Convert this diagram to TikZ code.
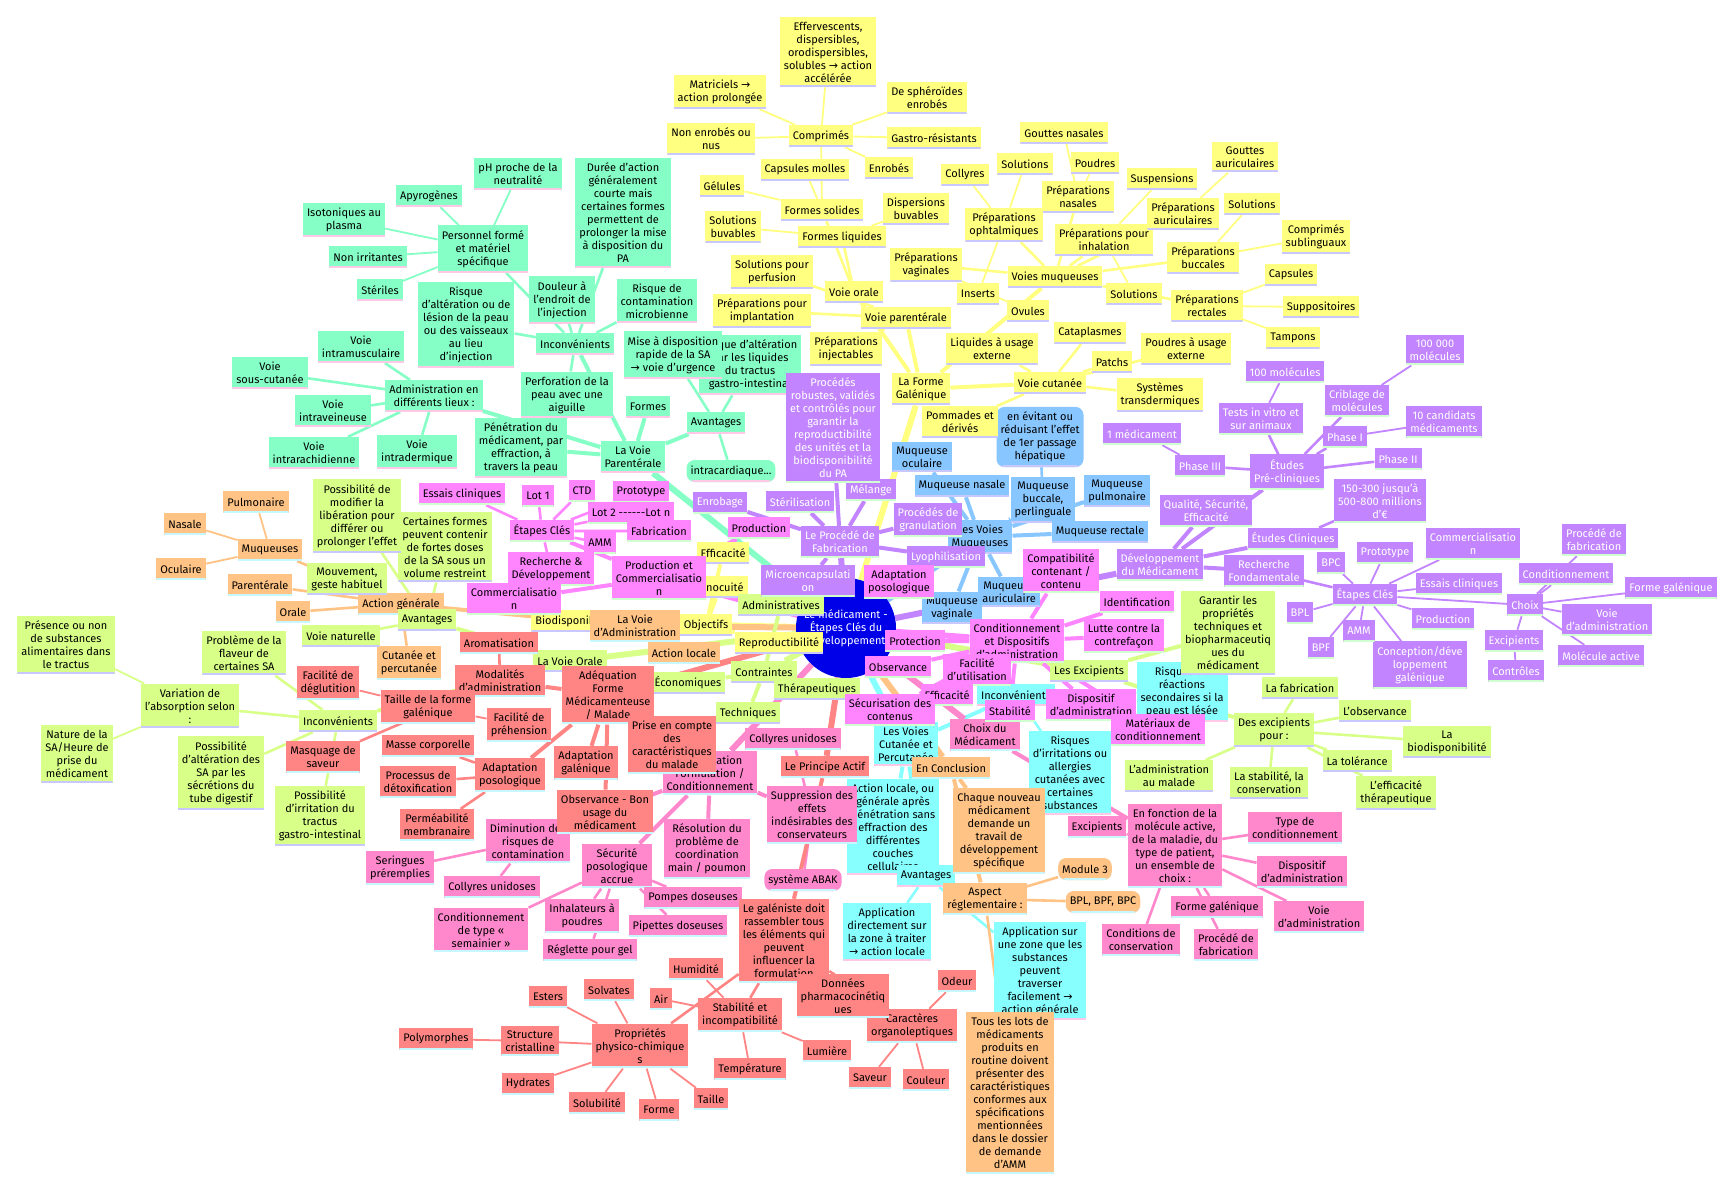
\documentclass[tikz,border=0pt]{standalone}
\usepackage{fontspec}
\setmainfont{Fira Sans}
\newfontfamily\arrfont{DejaVu Sans}
\usetikzlibrary{backgrounds}
\newcommand{\rarr}{{\arrfont →}}
\definecolor{cyel}{HTML}{FFFF80}
\definecolor{cmint}{HTML}{85FFC6}
\definecolor{clime}{HTML}{D8FF88}
\definecolor{cora}{HTML}{FFC385}
\definecolor{csal}{HTML}{FF8585}
\definecolor{crose}{HTML}{FF88CC}
\definecolor{cmag}{HTML}{FF85FF}
\definecolor{cpur}{HTML}{C285FF}
\definecolor{cblu}{HTML}{88C6FF}
\definecolor{ccya}{HTML}{88FFFF}
\definecolor{croot}{HTML}{0000E8}
\definecolor{ulav}{HTML}{C8C8FF}
\definecolor{upink}{HTML}{FFC8E6}
\definecolor{ugrn}{HTML}{D0FFD0}
\definecolor{ucya}{HTML}{C8F8FF}
\begin{document}
\begin{tikzpicture}[x=1pt, y=-1pt,
    mm/.style = {rectangle, align=center, inner xsep=4pt, inner ysep=5pt,
                minimum height=22pt, font=\fontsize{11}{13}\selectfont},
    ul/.style = {path picture={\fill[#1] ([yshift=2pt]path picture bounding box.south west)
                rectangle (path picture bounding box.south east);}},
    yel/.style = {mm, fill=cyel, ul=ulav},
    mnt/.style = {mm, fill=cmint, ul=upink},
    lim/.style = {mm, fill=clime, ul=ulav},
    org/.style = {mm, fill=cora, ul=ucya},
    sal/.style = {mm, fill=csal, ul=ucya},
    ros/.style = {mm, fill=crose, ul=ucya},
    mag/.style = {mm, fill=cmag, ul=ugrn},
    pur/.style = {mm, fill=cpur, text=white, ul=ugrn},
    blu/.style = {mm, fill=cblu, ul=ulav},
    cya/.style = {mm, fill=ccya, ul=upink},
    rnd/.style = {rounded corners=8pt},
    e0/.style = {line width=6pt},
    e1/.style = {line width=4pt},
    e2/.style = {line width=2.6pt},
    e3/.style = {line width=1.8pt}
                    ]
    \useasboundingbox (0,0) rectangle (1735,1191);
    % centre
    \node[circle, fill=croot, text=white, minimum size=100pt, inner sep=0pt, align=center,
          font=\fontsize{11}{13}\selectfont] at (846,628) (root) {Le médicament -\\Étapes Clés du\\Développement};
    % objectifs
    \node[yel] at (706,625) (obj) {Objectifs};
    \node[yel] at (723,553) (oef) {Efficacité};
    \node[yel] at (720,587) (oin) {Innocuité};
    \node[yel] at (575,621) (obi) {Biodisponibilité};
    \node[yel] at (779,643) (ore) {Reproductibilité};
    % voie parenterale
    \node[mnt] at (633,457) (vpar) {La Voie\\Parentérale};
    \node[mnt] at (521,448) (mdef) {Pénétration du\\médicament, par\\effraction, à\\travers la peau};
    \node[mnt] at (434,396) (madm) {Administration en\\différents lieux :};
    \node[mnt] at (270,373) (msc) {Voie\\sous-cutanée};
    \node[mnt] at (361,347) (mim) {Voie\\intramusculaire};
    \node[mnt] at (333,411) (miv) {Voie\\intraveineuse};
    \node[mnt] at (314,453) (mir) {Voie\\intrarachidienne};
    \node[mnt] at (417,452) (mid) {Voie\\intradermique};
    \node[mnt,rnd] at (731,471) (mica) {intracardiaque...};
    \node[mnt] at (483,249) (mpers) {Personnel formé\\et matériel\\spécifique};
    \node[mnt] at (518,174) (mph) {pH proche de la\\neutralité};
    \node[mnt] at (429,196) (mapy) {Apyrogènes};
    \node[mnt] at (344,220) (miso) {Isotoniques au\\plasma};
    \node[mnt] at (368,257) (mnir) {Non irritantes};
    \node[mnt] at (380,290) (mste) {Stériles};
    \node[mnt] at (575,344) (minc) {Inconvénients};
    \node[mnt] at (466,325) (mrl) {Risque\\d'altération ou de\\lésion de la peau\\ou des vaisseaux\\au lieu\\d'injection};
    \node[mnt] at (562,300) (mdou) {Douleur à\\l'endroit de\\l'injection};
    \node[mnt] at (623,213) (mdur) {Durée d'action\\généralement\\courte mais\\certaines formes\\permettent de\\prolonger la mise\\à disposition du\\PA};
    \node[mnt] at (657,301) (mcont) {Risque de\\contamination\\microbienne};
    \node[mnt] at (567,395) (mperf) {Perforation de la\\peau avec une\\aiguille};
    \node[mnt] at (716,423) (mav) {Avantages};
    \node[mnt] at (750,365) (malt) {Risque d'altération\\par les liquides\\du tractus\\gastro-intestinal};
    \node[mnt] at (673,355) (mmis) {Mise à disposition\\rapide de la SA\\\rarr{} voie d'urgence};
    \node[mnt] at (648,407) (mfor) {Formes};
    % voies muqueuses
    \node[blu] at (980,537) (lvm) {Les Voies\\Muqueuses};
    \node[blu] at (922,457) (bocu) {Muqueuse\\oculaire};
    \node[blu] at (962,486) (bnas) {Muqueuse nasale};
    \node[blu] at (1043,500) (bbuc) {Muqueuse\\buccale,\\perlinguale};
    \node[blu] at (1117,491) (bpul) {Muqueuse\\pulmonaire};
    \node[blu] at (1100,532) (brec) {Muqueuse rectale};
    \node[blu] at (1009,592) (baur) {Muqueuse\\auriculaire};
    \node[blu] at (952,608) (bvag) {Muqueuse\\vaginale};
    \node[blu,rnd] at (1040,437) (bev) {en évitant ou\\réduisant l'effet\\de 1er passage\\hépatique};
    % forme galenique
    \node[yel] at (921,389) (fg) {La Forme\\Galénique};
    \node[yel] at (854,292) (vor) {Voie orale};
    \node[yel] at (906,318) (vpa) {Voie parentérale};
    \node[yel] at (1055,277) (vmu) {Voies muqueuses};
    \node[yel] at (1050,383) (vcu) {Voie cutanée};
    \node[yel] at (822,210) (fso) {Formes solides};
    \node[yel] at (842,237) (fli) {Formes liquides};
    \node[yel] at (821,136) (cmp) {Comprimés};
    \node[yel] at (828,52) (eff) {Effervescents,\\dispersibles,\\orodispersibles,\\solubles \rarr{} action\\accélérée};
    \node[yel] at (720,92) (mat) {Matriciels \rarr\\action prolongée};
    \node[yel] at (927,98) (sph) {De sphéroïdes\\enrobés};
    \node[yel] at (711,139) (nen) {Non enrobés ou\\nus};
    \node[yel] at (934,138) (gas) {Gastro-résistants};
    \node[yel] at (805,170) (cap) {Capsules molles};
    \node[yel] at (889,168) (enr) {Enrobés};
    \node[yel] at (722,186) (gel) {Gélules};
    \node[yel] at (916,209) (dbu) {Dispersions\\buvables};
    \node[yel] at (733,227) (sbu) {Solutions\\buvables};
    \node[yel] at (772,272) (spe) {Solutions pour\\perfusion};
    \node[yel] at (762,311) (pim) {Préparations pour\\implantation};
    \node[yel] at (846,349) (pin) {Préparations\\injectables};
    \node[yel] at (965,175) (col) {Collyres};
    \node[yel] at (1025,164) (sol1) {Solutions};
    \node[yel] at (1064,133) (gna) {Gouttes nasales};
    \node[yel] at (1095,163) (pou) {Poudres};
    \node[yel] at (1078,197) (pna) {Préparations\\nasales};
    \node[yel] at (1004,225) (poph) {Préparations\\ophtalmiques};
    \node[yel] at (1162,179) (sus) {Suspensions};
    \node[yel] at (1104,240) (pinh) {Préparations pour\\inhalation};
    \node[yel] at (926,265) (pva) {Préparations\\vaginales};
    \node[yel] at (978,294) (ins) {Inserts};
    \node[yel] at (1134,294) (sol2) {Solutions};
    \node[yel] at (1028,311) (ovu) {Ovules};
    \node[yel] at (1090,333) (cata) {Cataplasmes};
    \node[yel] at (992,349) (liq) {Liquides à usage\\externe};
    \node[yel] at (1112,362) (pat) {Patchs};
    \node[yel] at (1186,349) (pext) {Poudres à usage\\externe};
    \node[yel] at (1160,395) (sys) {Systèmes\\transdermiques};
    \node[yel] at (960,422) (pom) {Pommades et\\dérivés};
    \node[yel] at (1245,157) (gau) {Gouttes\\auriculaires};
    \node[yel] at (1183,214) (pau) {Préparations\\auriculaires};
    \node[yel] at (1252,204) (sol3) {Solutions};
    \node[yel] at (1316,237) (csl) {Comprimés\\sublinguaux};
    \node[yel] at (1203,258) (pbu) {Préparations\\buccales};
    \node[yel] at (1291,275) (caps) {Capsules};
    \node[yel] at (1207,306) (pre) {Préparations\\rectales};
    \node[yel] at (1321,307) (sup) {Suppositoires};
    \node[yel] at (1293,338) (tam) {Tampons};
    % voies cutanee et percutanee
    \node[cya] at (906,744) (lvc) {Les Voies\\Cutanée et\\Percutanée};
    \node[cya] at (1016,695) (cinc) {Inconvénients};
    \node[cya] at (1182,692) (crea) {Risques de\\réactions\\secondaires si la\\peau est lésée};
    \node[cya] at (1070,773) (cirr) {Risques\\d'irritations ou\\allergies\\cutanées avec\\certaines\\substances};
    \node[cya] at (893,827) (cact) {Action locale, ou\\générale après\\pénétration sans\\effraction des\\différentes\\couches\\cellulaires};
    \node[cya] at (926,876) (cav) {Avantages};
    \node[cya] at (887,932) (capd) {Application\\directement sur\\la zone à traiter\\\rarr{} action locale};
    \node[cya] at (1040,971) (caps2) {Application sur\\une zone que les\\substances\\peuvent\\traverser\\facilement \rarr\\action générale};
    % voie d'administration, conclusion
    \node[org] at (635,626) (vad) {La Voie\\d'Administration};
    \node[org] at (401,604) (oag) {Action générale};
    \node[org] at (270,550) (omu) {Muqueuses};
    \node[org] at (256,502) (opul) {Pulmonaire};
    \node[org] at (185,524) (onas) {Nasale};
    \node[org] at (181,569) (ooc) {Oculaire};
    \node[org] at (260,585) (opar) {Parentérale};
    \node[org] at (293,612) (oora) {Orale};
    \node[org] at (684,653) (oal) {Action locale};
    \node[org] at (409,663) (ocut) {Cutanée et\\percutanée};
    \node[org] at (951,768) (conc) {En Conclusion};
    \node[org] at (999,831) (ochq) {Chaque nouveau\\médicament\\demande un\\travail de\\développement\\spécifique};
    \node[org] at (985,899) (oasp) {Aspect\\réglementaire :};
    \node[org,rnd] at (1085,869) (omod) {Module 3};
    \node[org,rnd] at (1103,902) (obpl) {BPL, BPF, BPC};
    \node[org] at (1010,1093) (otous) {Tous les lots de\\médicaments\\produits en\\routine doivent\\présenter des\\caractéristiques\\conformes aux\\spécifications\\mentionnées\\dans le dossier\\de demande\\d'AMM};
    % voie orale, contraintes, excipients
    \node[lim] at (570,661) (vora) {La Voie Orale};
    \node[lim] at (427,620) (lav) {Avantages};
    \node[lim] at (445,547) (lcer) {Certaines formes\\peuvent contenir\\de fortes doses\\de la SA sous un\\volume restreint};
    \node[lim] at (357,516) (lmod) {Possibilité de\\modifier la\\libération pour\\différer ou\\prolonger l'effet};
    \node[lim] at (347,579) (lmou) {Mouvement,\\geste habituel};
    \node[lim] at (341,636) (lnat) {Voie naturelle};
    \node[lim] at (338,721) (linc) {Inconvénients};
    \node[lim] at (244,653) (lfla) {Problème de la\\flaveur de\\certaines SA};
    \node[lim] at (190,706) (lvar) {Variation de\\l'absorption selon\\:};
    \node[lim] at (66,645) (lpre) {Présence ou non\\de substances\\alimentaires dans\\le tractus};
    \node[lim] at (77,754) (lnatu) {Nature de la\\SA/Heure de\\prise du\\médicament};
    \node[lim] at (221,773) (lalt) {Possibilité\\d'altération des\\SA par les\\sécrétions du\\tube digestif};
    \node[lim] at (320,816) (lirr) {Possibilité\\d'irritation du\\tractus\\gastro-intestinal};
    \node[lim] at (764,672) (ctr) {Contraintes};
    \node[lim] at (781,605) (cadm) {Administratives};
    \node[lim] at (688,683) (ceco) {Économiques};
    \node[lim] at (748,713) (ctec) {Techniques};
    \node[lim] at (817,689) (cthe) {Thérapeutiques};
    \node[lim] at (1089,671) (exc) {Les Excipients};
    \node[lim] at (1228,633) (egar) {Garantir les\\propriétés\\techniques et\\biopharmaceutiq\\ues du\\médicament};
    \node[lim] at (1274,730) (epour) {Des excipients\\pour :};
    \node[lim] at (1300,688) (efab) {La fabrication};
    \node[lim] at (1375,711) (eobs) {L'observance};
    \node[lim] at (1447,742) (ebio) {La\\biodisponibilité};
    \node[lim] at (1357,761) (etol) {La tolérance};
    \node[lim] at (1396,793) (eeff) {L'efficacité\\thérapeutique};
    \node[lim] at (1269,783) (esta) {La stabilité, la\\conservation};
    \node[lim] at (1169,776) (eadm) {L'administration\\au malade};
    % choix, formulation
    \node[ros] at (985,735) (choix) {Choix du\\Médicament};
    \node[ros] at (1175,846) (efct) {En fonction de la\\molécule active,\\de la maladie, du\\type de patient,\\un ensemble de\\choix :};
    \node[ros] at (1295,828) (rtyp) {Type de\\conditionnement};
    \node[ros] at (1302,872) (rdis) {Dispositif\\d'administration};
    \node[ros] at (1319,917) (rvoi) {Voie\\d'administration};
    \node[ros] at (1217,907) (rfor) {Forme galénique};
    \node[ros] at (1141,940) (rcon) {Conditions de\\conservation};
    \node[ros] at (1226,945) (rpro) {Procédé de\\fabrication};
    \node[ros] at (1097,827) (rexc) {Excipients};
    \node[ros] at (710,773) (form) {Optimisation\\Formulation /\\Conditionnement};
    \node[ros] at (793,739) (rcol1) {Collyres unidoses};
    \node[ros] at (812,815) (rsup) {Suppression des\\effets\\indésirables des\\conservateurs};
    \node[ros,rnd] at (803,880) (rabak) {système ABAK};
    \node[ros] at (707,849) (rres) {Résolution du\\problème de\\coordination\\main / poumon};
    \node[ros] at (617,866) (rsec) {Sécurité\\posologique\\accrue};
    \node[ros] at (693,898) (rpom) {Pompes doseuses};
    \node[ros] at (678,926) (rpip) {Pipettes doseuses};
    \node[ros] at (582,916) (rinh) {Inhalateurs à\\poudres};
    \node[ros] at (590,950) (rreg) {Réglette pour gel};
    \node[ros] at (481,930) (rsem) {Conditionnement\\de type «\\semainier »};
    \node[ros] at (528,841) (rdim) {Diminution des\\risques de\\contamination};
    \node[ros] at (400,868) (rser) {Seringues\\préremplies};
    \node[ros] at (492,887) (rcol2) {Collyres unidoses};
    % principe actif, adequation
    \node[sal] at (825,767) (pa) {Le Principe Actif};
    \node[sal] at (784,941) (gal) {Le galéniste doit\\rassembler tous\\les éléments qui\\peuvent\\influencer la\\formulation};
    \node[sal] at (912,1026) (scar) {Caractères\\organoleptiques};
    \node[sal] at (843,996) (sdon) {Données\\pharmacocinétiq\\ues};
    \node[sal] at (640,1046) (ppc) {Propriétés\\physico-chimique\\s};
    \node[sal] at (548,997) (sest) {Esters};
    \node[sal] at (609,990) (ssolv) {Solvates};
    \node[sal] at (530,1041) (sstr) {Structure\\cristalline};
    \node[sal] at (436,1039) (spol) {Polymorphes};
    \node[sal] at (528,1084) (shyd) {Hydrates};
    \node[sal] at (597,1103) (ssolu) {Solubilité};
    \node[sal] at (659,1110) (sfor) {Forme};
    \node[sal] at (711,1099) (stai) {Taille};
    \node[sal] at (740,1015) (sstab) {Stabilité et\\incompatibilité};
    \node[sal] at (696,969) (shum) {Humidité};
    \node[sal] at (661,999) (sair) {Air};
    \node[sal] at (827,1051) (slum) {Lumière};
    \node[sal] at (750,1069) (stem) {Température};
    \node[sal] at (957,981) (sodeur) {Odeur};
    \node[sal] at (870,1078) (ssav) {Saveur};
    \node[sal] at (926,1080) (scou) {Couleur};
    \node[sal] at (608,695) (adq) {Adéquation\\Forme\\Médicamenteuse\\/ Malade};
    \node[sal] at (500,681) (smod) {Modalités\\d'administration};
    \node[sal] at (428,707) (stfg) {Taille de la forme\\galénique};
    \node[sal] at (328,683) (sdeg) {Facilité de\\déglutition};
    \node[sal] at (519,725) (spreh) {Facilité de\\préhension};
    \node[sal] at (499,643) (saro) {Aromatisation};
    \node[sal] at (323,757) (smas) {Masquage de\\saveur};
    \node[sal] at (510,775) (sapo) {Adaptation\\posologique};
    \node[sal] at (428,746) (smc) {Masse corporelle};
    \node[sal] at (418,782) (sdet) {Processus de\\détoxification};
    \node[sal] at (437,825) (sper) {Perméabilité\\membranaire};
    \node[sal] at (586,763) (sagal) {Adaptation\\galénique};
    \node[sal] at (672,745) (sprise) {Prise en compte\\des\\caractéristiques\\du malade};
    \node[sal] at (605,812) (sobs) {Observance - Bon\\usage du\\médicament};
    % developpement, procede de fabrication
    \node[pur] at (1160,565) (dev) {Développement\\du Médicament};
    \node[pur] at (1264,571) (rfond) {Recherche\\Fondamentale};
    \node[pur] at (1287,472) (epc) {Études\\Pré-cliniques};
    \node[pur] at (1293,539) (ecl) {Études Cliniques};
    \node[pur] at (1206,511) (qse) {Qualité, Sécurité,\\Efficacité};
    \node[pur] at (1261,419) (tiv) {Tests in vitro et\\sur animaux};
    \node[pur] at (1285,372) (m100) {100 molécules};
    \node[pur] at (1357,401) (crib) {Criblage de\\molécules};
    \node[pur] at (1435,350) (m100k) {100 000\\molécules};
    \node[pur] at (1345,437) (ph1) {Phase I};
    \node[pur] at (1444,422) (c10) {10 candidats\\médicaments};
    \node[pur] at (1398,459) (ph2) {Phase II};
    \node[pur] at (1200,466) (ph3) {Phase III};
    \node[pur] at (1142,434) (m1) {1 médicament};
    \node[pur] at (1380,501) (cost) {150-300 jusqu'à\\500-800 millions\\d'€};
    \node[pur] at (1365,595) (etk) {Étapes Clés};
    \node[pur] at (1331,563) (kbpc) {BPC};
    \node[pur] at (1385,553) (kprot) {Prototype};
    \node[pur] at (1473,544) (kcomm) {Commercialisatio\\n};
    \node[pur] at (1459,584) (kessai) {Essais cliniques};
    \node[pur] at (1443,619) (kprodu) {Production};
    \node[pur] at (1420,665) (kconc) {Conception/déve\\loppement\\galénique};
    \node[pur] at (1359,631) (kamm2) {AMM};
    \node[pur] at (1321,648) (kbpf) {BPF};
    \node[pur] at (1300,613) (kbpl) {BPL};
    \node[pur] at (1525,605) (cho) {Choix};
    \node[pur] at (1594,540) (chpro) {Procédé de\\fabrication};
    \node[pur] at (1566,574) (chcon) {Conditionnement};
    \node[pur] at (1671,588) (chfor) {Forme galénique};
    \node[pur] at (1607,620) (chvoi) {Voie\\d'administration};
    \node[pur] at (1514,641) (chexc) {Excipients};
    \node[pur] at (1601,656) (chmol) {Molécule active};
    \node[pur] at (1516,671) (chctr) {Contrôles};
    \node[pur] at (840,542) (pfab) {Le Procédé de\\Fabrication};
    \node[pur] at (720,503) (penr) {Enrobage};
    \node[pur] at (800,502) (pste) {Stérilisation};
    \node[pur] at (871,490) (pmel) {Mélange};
    \node[pur] at (928,520) (pgra) {Procédés de\\granulation};
    \node[pur] at (946,557) (plyo) {Lyophilisation};
    \node[pur] at (808,581) (pmic) {Microencapsulati\\on};
    \node[pur] at (833,428) (prob) {Procédés\\robustes, validés\\et contrôlés pour\\garantir la\\reproductibilité\\des unités et la\\biodisponibilité\\du PA};
    % conditionnement, etapes cles
    \node[mag] at (1017,641) (cdis) {Conditionnement\\et Dispositifs\\d'administration};
    \node[mag] at (1061,571) (mcomp) {Compatibilité\\contenant /\\contenu};
    \node[mag] at (1137,602) (mide) {Identification};
    \node[mag] at (1124,636) (mlut) {Lutte contre la\\contrefaçon};
    \node[mag] at (915,641) (mpro) {Protection};
    \node[mag] at (898,667) (mobs) {Observance};
    \node[mag] at (977,670) (mfac) {Facilité\\d'utilisation};
    \node[mag] at (947,695) (meff) {Efficacité};
    \node[mag] at (890,710) (msec) {Sécurisation des\\contenus};
    \node[mag] at (1010,711) (msta) {Stabilité};
    \node[mag] at (1091,705) (mdisp) {Dispositif\\d'administration};
    \node[mag] at (1158,730) (mmat) {Matériaux de\\conditionnement};
    \node[mag] at (899,582) (mada) {Adaptation\\posologique};
    \node[mag] at (542,531) (etc) {Étapes Clés};
    \node[mag] at (462,494) (kess) {Essais cliniques};
    \node[mag] at (538,496) (klot1) {Lot 1};
    \node[mag] at (582,491) (kctd) {CTD};
    \node[mag] at (641,492) (kpro) {Prototype};
    \node[mag] at (631,513) (klot2) {Lot 2 -{}-{}-{}-{}-{}-Lot n};
    \node[mag] at (659,531) (kfab) {Fabrication};
    \node[mag] at (600,543) (kamm) {AMM};
    \node[mag] at (551,569) (krd) {Recherche \&\\Développement};
    \node[mag] at (759,528) (kprod) {Production};
    \node[mag] at (659,578) (kpc) {Production et\\Commercialisatio\\n};
    \node[mag] at (514,599) (kcom) {Commercialisatio\\n};
    % liens
    \begin{scope}[on background layer]
    \fill[white] (0,0) rectangle (1735,1191);
    \draw[e0,cyel] (root) -- (fg) (root) -- (obj);
    \draw[e1,cyel] (fg) -- (vor) (fg) -- (vpa) (fg) -- (vmu) (fg) -- (vcu);
    \draw[e1,cyel] (obj) -- (oef) (obj) -- (oin) (obj) -- (obi) (obj) -- (ore);
    \draw[e2,cyel] (vor) -- (fso) (vor) -- (fli) (vpa) -- (spe) (vpa) -- (pim) (vpa) -- (pin);
    \draw[e2,cyel] (vmu) -- (poph) (vmu) -- (pna) (vmu) -- (pinh) (vmu) -- (pva) (vmu) -- (pau) (vmu) -- (pbu) (vmu) -- (pre);
    \draw[e2,cyel] (vcu) -- (liq) (vcu) -- (cata) (vcu) -- (pat) (vcu) -- (pext) (vcu) -- (sys) (vcu) -- (pom);
    \draw[e3,cyel] (fso) -- (cmp) (fso) -- (cap) (fso) -- (gel) (fli) -- (sbu) (fli) -- (dbu);
    \draw[e3,cyel] (cmp) -- (eff) (cmp) -- (mat) (cmp) -- (sph) (cmp) -- (nen) (cmp) -- (gas) (cmp) -- (enr);
    \draw[e3,cyel] (poph) -- (col) (poph) -- (sol1) (poph) -- (ins) (pna) -- (gna) (pna) -- (pou) (pva) -- (ovu);
    \draw[e3,cyel] (pinh) -- (sus) (pinh) -- (sol2) (pau) -- (gau) (pbu) -- (sol3) (pbu) -- (csl);
    \draw[e3,cyel] (pre) -- (caps) (pre) -- (sup) (pre) -- (tam);
    \draw[e0,cmint] (root) -- (vpar);
    \draw[e1,cmint] (vpar) -- (mdef) (vpar) -- (madm) (vpar) -- (minc) (vpar) -- (mav) (vpar) -- (mfor);
    \draw[e2,cmint] (madm) -- (msc) (madm) -- (mim) (madm) -- (miv) (madm) -- (mir) (madm) -- (mid);
    \draw[e2,cmint] (minc) -- (mpers) (minc) -- (mrl) (minc) -- (mdou) (minc) -- (mdur) (minc) -- (mcont) (minc) -- (mperf);
    \draw[e2,cmint] (mav) -- (mmis) (mav) -- (malt) (mav) -- (mica);
    \draw[e3,cmint] (mpers) -- (mph) (mpers) -- (mapy) (mpers) -- (miso) (mpers) -- (mnir) (mpers) -- (mste);
    \draw[e0,cblu] (root) -- (lvm);
    \draw[e1,cblu] (lvm) -- (bocu) (lvm) -- (bnas) (lvm) -- (bbuc) (lvm) -- (bpul) (lvm) -- (brec) (lvm) -- (baur) (lvm) -- (bvag);
    \draw[e2,cblu] (bbuc) -- (bev);
    \draw[e0,ccya] (root) -- (lvc);
    \draw[e1,ccya] (lvc) -- (cinc) (lvc) -- (cact) (lvc) -- (cav);
    \draw[e2,ccya] (cinc) -- (crea) (cinc) -- (cirr) (cav) -- (capd) (cav) -- (caps2);
    \draw[e0,cora] (root) -- (vad) (root) -- (conc);
    \draw[e1,cora] (vad) -- (oag) (vad) -- (oal) (conc) -- (ochq) (conc) -- (oasp);
    \draw[e2,cora] (oag) -- (omu) (oag) -- (opar) (oag) -- (oora) (oag) -- (ocut);
    \draw[e2,cora] (oasp) -- (omod) (oasp) -- (obpl) (oasp) -- (otous);
    \draw[e3,cora] (omu) -- (opul) (omu) -- (onas) (omu) -- (ooc);
    \draw[e0,clime] (root) -- (vora) (root) -- (ctr) (root) -- (exc);
    \draw[e1,clime] (vora) -- (lav) (vora) -- (linc);
    \draw[e1,clime] (ctr) -- (cadm) (ctr) -- (ceco) (ctr) -- (ctec) (ctr) -- (cthe);
    \draw[e1,clime] (exc) -- (egar) (exc) -- (epour);
    \draw[e2,clime] (lav) -- (lmod) (lav) -- (lcer) (lav) -- (lmou) (lav) -- (lnat);
    \draw[e2,clime] (linc) -- (lfla) (linc) -- (lvar) (linc) -- (lalt) (linc) -- (lirr);
    \draw[e2,clime] (epour) -- (efab) (epour) -- (eobs) (epour) -- (ebio) (epour) -- (etol) (epour) -- (eeff) (epour) -- (esta) (epour) -- (eadm);
    \draw[e3,clime] (lvar) -- (lpre) (lvar) -- (lnatu);
    \draw[e0,crose] (root) -- (choix) (root) -- (form);
    \draw[e1,crose] (choix) -- (efct) (form) -- (rsup) (form) -- (rres) (form) -- (rsec) (form) -- (rdim);
    \draw[e2,crose] (efct) -- (rtyp) (efct) -- (rdis) (efct) -- (rvoi) (efct) -- (rfor) (efct) -- (rcon) (efct) -- (rpro) (efct) -- (rexc);
    \draw[e2,crose] (rsup) -- (rcol1) (rsup) -- (rabak);
    \draw[e2,crose] (rsec) -- (rpom) (rsec) -- (rpip) (rsec) -- (rinh) (rsec) -- (rreg) (rsec) -- (rsem);
    \draw[e2,crose] (rdim) -- (rser) (rdim) -- (rcol2);
    \draw[e0,csal] (root) -- (pa) (root) -- (adq);
    \draw[e1,csal] (pa) -- (gal);
    \draw[e1,csal] (adq) -- (smod) (adq) -- (sapo) (adq) -- (sagal) (adq) -- (sprise) (adq) -- (sobs);
    \draw[e2,csal] (gal) -- (ppc) (gal) -- (sstab) (gal) -- (sdon) (gal) -- (scar);
    \draw[e2,csal] (smod) -- (stfg) (smod) -- (saro) (smod) -- (smas);
    \draw[e2,csal] (sapo) -- (smc) (sapo) -- (sdet) (sapo) -- (sper);
    \draw[e3,csal] (ppc) -- (sest) (ppc) -- (ssolv) (ppc) -- (sstr) (ppc) -- (shyd) (ppc) -- (ssolu) (ppc) -- (sfor) (ppc) -- (stai);
    \draw[e3,csal] (sstr) -- (spol) (stfg) -- (sdeg) (stfg) -- (spreh);
    \draw[e3,csal] (sstab) -- (shum) (sstab) -- (sair) (sstab) -- (slum) (sstab) -- (stem);
    \draw[e3,csal] (scar) -- (sodeur) (scar) -- (ssav) (scar) -- (scou);
    \draw[e0,cpur] (root) -- (dev) (root) -- (pfab);
    \draw[e1,cpur] (dev) -- (rfond) (dev) -- (epc) (dev) -- (ecl) (dev) -- (qse);
    \draw[e1,cpur] (pfab) -- (penr) (pfab) -- (pste) (pfab) -- (pmel) (pfab) -- (pgra) (pfab) -- (plyo) (pfab) -- (pmic) (pfab) -- (prob);
    \draw[e2,cpur] (epc) -- (tiv) (epc) -- (crib) (epc) -- (ph1) (epc) -- (ph2) (epc) -- (ph3) (ecl) -- (cost);
    \draw[e2,cpur] (rfond) -- (etk);
    \draw[e3,cpur] (tiv) -- (m100) (crib) -- (m100k) (ph1) -- (c10) (ph3) -- (m1);
    \draw[e3,cpur] (etk) -- (kbpc) (etk) -- (kprot) (etk) -- (kcomm) (etk) -- (kessai) (etk) -- (kprodu) (etk) -- (kconc) (etk) -- (kamm2) (etk) -- (kbpf) (etk) -- (kbpl) (etk) -- (cho);
    \draw[e3,cpur] (cho) -- (chpro) (cho) -- (chcon) (cho) -- (chfor) (cho) -- (chvoi) (cho) -- (chexc) (cho) -- (chmol) (chexc) -- (chctr);
    \draw[e0,cmag] (root) -- (cdis) (root) -- (kpc);
    \draw[e1,cmag] (cdis) -- (mcomp) (cdis) -- (mide) (cdis) -- (mlut) (cdis) -- (mpro) (cdis) -- (mobs) (cdis) -- (mfac);
    \draw[e1,cmag] (cdis) -- (meff) (cdis) -- (msec) (cdis) -- (msta) (cdis) -- (mdisp) (cdis) -- (mmat) (cdis) -- (mada);
    \draw[e1,cmag] (kpc) -- (etc) (kpc) -- (kprod) (kpc) -- (kcom);
    \draw[e2,cmag] (etc) -- (kess) (etc) -- (klot1) (etc) -- (kctd) (etc) -- (kpro) (etc) -- (klot2) (etc) -- (kfab) (etc) -- (kamm) (etc) -- (krd);
    \end{scope}
\end{tikzpicture}
\end{document}
